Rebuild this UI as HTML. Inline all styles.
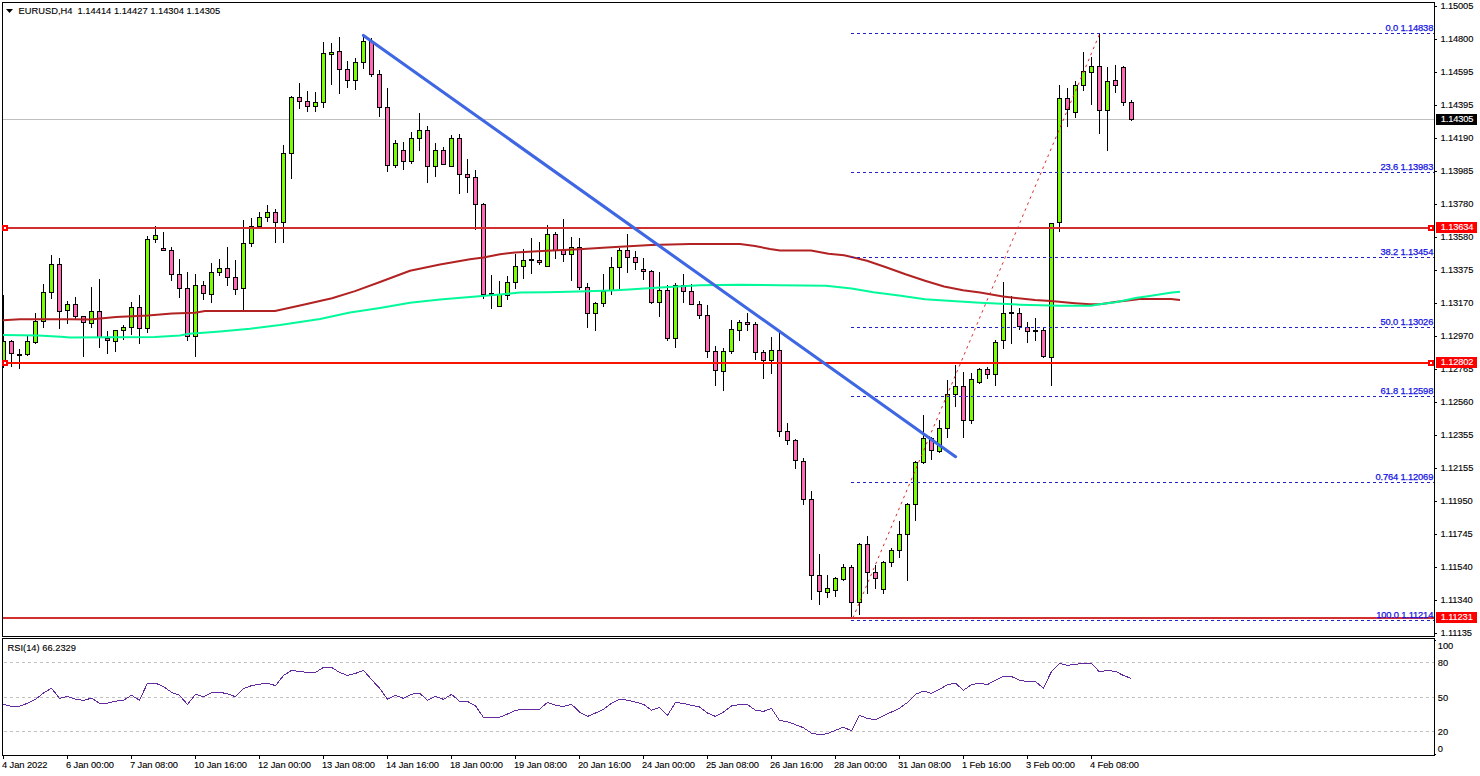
<!DOCTYPE html>
<html><head><meta charset="utf-8"><title>EURUSD,H4</title>
<style>html,body{margin:0;padding:0;background:#fff;}body{width:1480px;height:776px;overflow:hidden;position:relative;}svg{position:absolute;left:0;top:0;display:block;}text{font-family:"Liberation Sans",sans-serif;font-size:9.33px;fill:#000;stroke:#000;stroke-width:0.12px;}.fib{fill:#1414e6;stroke:#1414e6;stroke-width:0.25px;}.w{fill:#fff;stroke:#fff;}.d{letter-spacing:-0.08px;}.n{letter-spacing:-0.15px;}</style>
</head><body>
<svg width="1480" height="776" viewBox="0 0 1480 776">
<rect x="0" y="0" width="1480" height="776" fill="#fff"/>
<defs><clipPath id="cm"><rect x="3" y="3" width="1431" height="633"/></clipPath><clipPath id="cr"><rect x="3" y="639" width="1431" height="116"/></clipPath></defs>
<g clip-path="url(#cm)" shape-rendering="crispEdges">
<rect x="3" y="119" width="1431" height="1" fill="#c0c0c0"/>
<rect x="3" y="295" width="1" height="73" fill="#000"/>
<rect x="1" y="341" width="5" height="20" fill="#000"/>
<rect x="2" y="342" width="3" height="18" fill="#7cfc00"/>
<rect x="11" y="340" width="1" height="27" fill="#000"/>
<rect x="9" y="341" width="5" height="13" fill="#000"/>
<rect x="10" y="342" width="3" height="11" fill="#ff69b4"/>
<rect x="19" y="349" width="1" height="20" fill="#000"/>
<rect x="17" y="354" width="5" height="2" fill="#000"/>
<rect x="27" y="336" width="1" height="20" fill="#000"/>
<rect x="25" y="341" width="5" height="14" fill="#000"/>
<rect x="26" y="342" width="3" height="12" fill="#7cfc00"/>
<rect x="35" y="313" width="1" height="31" fill="#000"/>
<rect x="33" y="321" width="5" height="22" fill="#000"/>
<rect x="34" y="322" width="3" height="20" fill="#7cfc00"/>
<rect x="43" y="284" width="1" height="44" fill="#000"/>
<rect x="41" y="292" width="5" height="30" fill="#000"/>
<rect x="42" y="293" width="3" height="28" fill="#7cfc00"/>
<rect x="51" y="255" width="1" height="44" fill="#000"/>
<rect x="49" y="264" width="5" height="29" fill="#000"/>
<rect x="50" y="265" width="3" height="27" fill="#7cfc00"/>
<rect x="59" y="258" width="1" height="71" fill="#000"/>
<rect x="57" y="264" width="5" height="48" fill="#000"/>
<rect x="58" y="265" width="3" height="46" fill="#ff69b4"/>
<rect x="67" y="301" width="1" height="23" fill="#000"/>
<rect x="65" y="304" width="5" height="7" fill="#000"/>
<rect x="66" y="305" width="3" height="5" fill="#7cfc00"/>
<rect x="75" y="297" width="1" height="22" fill="#000"/>
<rect x="73" y="304" width="5" height="13" fill="#000"/>
<rect x="74" y="305" width="3" height="11" fill="#ff69b4"/>
<rect x="83" y="316" width="1" height="41" fill="#000"/>
<rect x="81" y="316" width="5" height="7" fill="#000"/>
<rect x="82" y="317" width="3" height="5" fill="#ff69b4"/>
<rect x="91" y="287" width="1" height="41" fill="#000"/>
<rect x="89" y="311" width="5" height="13" fill="#000"/>
<rect x="90" y="312" width="3" height="11" fill="#7cfc00"/>
<rect x="99" y="279" width="1" height="69" fill="#000"/>
<rect x="97" y="311" width="5" height="27" fill="#000"/>
<rect x="98" y="312" width="3" height="25" fill="#ff69b4"/>
<rect x="107" y="331" width="1" height="23" fill="#000"/>
<rect x="105" y="338" width="5" height="3" fill="#000"/>
<rect x="106" y="339" width="3" height="1" fill="#ff69b4"/>
<rect x="115" y="330" width="1" height="22" fill="#000"/>
<rect x="113" y="330" width="5" height="12" fill="#000"/>
<rect x="114" y="331" width="3" height="10" fill="#7cfc00"/>
<rect x="123" y="325" width="1" height="15" fill="#000"/>
<rect x="121" y="327" width="5" height="4" fill="#000"/>
<rect x="122" y="328" width="3" height="2" fill="#7cfc00"/>
<rect x="131" y="302" width="1" height="33" fill="#000"/>
<rect x="129" y="307" width="5" height="21" fill="#000"/>
<rect x="130" y="308" width="3" height="19" fill="#7cfc00"/>
<rect x="139" y="295" width="1" height="49" fill="#000"/>
<rect x="137" y="307" width="5" height="22" fill="#000"/>
<rect x="138" y="308" width="3" height="20" fill="#ff69b4"/>
<rect x="147" y="236" width="1" height="97" fill="#000"/>
<rect x="145" y="239" width="5" height="90" fill="#000"/>
<rect x="146" y="240" width="3" height="88" fill="#7cfc00"/>
<rect x="155" y="226" width="1" height="17" fill="#000"/>
<rect x="153" y="235" width="5" height="5" fill="#000"/>
<rect x="154" y="236" width="3" height="3" fill="#7cfc00"/>
<rect x="163" y="232" width="1" height="19" fill="#000"/>
<rect x="161" y="248" width="5" height="3" fill="#000"/>
<rect x="162" y="249" width="3" height="1" fill="#ff69b4"/>
<rect x="171" y="247" width="1" height="34" fill="#000"/>
<rect x="169" y="250" width="5" height="25" fill="#000"/>
<rect x="170" y="251" width="3" height="23" fill="#ff69b4"/>
<rect x="179" y="259" width="1" height="39" fill="#000"/>
<rect x="177" y="274" width="5" height="15" fill="#000"/>
<rect x="178" y="275" width="3" height="13" fill="#ff69b4"/>
<rect x="187" y="272" width="1" height="69" fill="#000"/>
<rect x="185" y="288" width="5" height="49" fill="#000"/>
<rect x="186" y="289" width="3" height="47" fill="#ff69b4"/>
<rect x="195" y="274" width="1" height="83" fill="#000"/>
<rect x="193" y="285" width="5" height="52" fill="#000"/>
<rect x="194" y="286" width="3" height="50" fill="#7cfc00"/>
<rect x="203" y="281" width="1" height="19" fill="#000"/>
<rect x="201" y="285" width="5" height="9" fill="#000"/>
<rect x="202" y="286" width="3" height="7" fill="#ff69b4"/>
<rect x="211" y="263" width="1" height="40" fill="#000"/>
<rect x="209" y="272" width="5" height="23" fill="#000"/>
<rect x="210" y="273" width="3" height="21" fill="#7cfc00"/>
<rect x="219" y="259" width="1" height="17" fill="#000"/>
<rect x="217" y="268" width="5" height="5" fill="#000"/>
<rect x="218" y="269" width="3" height="3" fill="#7cfc00"/>
<rect x="227" y="247" width="1" height="39" fill="#000"/>
<rect x="225" y="268" width="5" height="10" fill="#000"/>
<rect x="226" y="269" width="3" height="8" fill="#ff69b4"/>
<rect x="235" y="260" width="1" height="35" fill="#000"/>
<rect x="233" y="277" width="5" height="13" fill="#000"/>
<rect x="234" y="278" width="3" height="11" fill="#ff69b4"/>
<rect x="243" y="220" width="1" height="91" fill="#000"/>
<rect x="241" y="243" width="5" height="46" fill="#000"/>
<rect x="242" y="244" width="3" height="44" fill="#7cfc00"/>
<rect x="251" y="218" width="1" height="29" fill="#000"/>
<rect x="249" y="226" width="5" height="18" fill="#000"/>
<rect x="250" y="227" width="3" height="16" fill="#7cfc00"/>
<rect x="259" y="212" width="1" height="15" fill="#000"/>
<rect x="257" y="217" width="5" height="10" fill="#000"/>
<rect x="258" y="218" width="3" height="8" fill="#7cfc00"/>
<rect x="267" y="205" width="1" height="17" fill="#000"/>
<rect x="265" y="212" width="5" height="6" fill="#000"/>
<rect x="266" y="213" width="3" height="4" fill="#7cfc00"/>
<rect x="275" y="209" width="1" height="34" fill="#000"/>
<rect x="273" y="212" width="5" height="11" fill="#000"/>
<rect x="274" y="213" width="3" height="9" fill="#ff69b4"/>
<rect x="283" y="145" width="1" height="98" fill="#000"/>
<rect x="281" y="153" width="5" height="70" fill="#000"/>
<rect x="282" y="154" width="3" height="68" fill="#7cfc00"/>
<rect x="291" y="96" width="1" height="83" fill="#000"/>
<rect x="289" y="97" width="5" height="57" fill="#000"/>
<rect x="290" y="98" width="3" height="55" fill="#7cfc00"/>
<rect x="299" y="83" width="1" height="26" fill="#000"/>
<rect x="297" y="97" width="5" height="5" fill="#000"/>
<rect x="298" y="98" width="3" height="3" fill="#ff69b4"/>
<rect x="307" y="91" width="1" height="21" fill="#000"/>
<rect x="305" y="101" width="5" height="6" fill="#000"/>
<rect x="306" y="102" width="3" height="4" fill="#ff69b4"/>
<rect x="315" y="92" width="1" height="20" fill="#000"/>
<rect x="313" y="102" width="5" height="5" fill="#000"/>
<rect x="314" y="103" width="3" height="3" fill="#7cfc00"/>
<rect x="323" y="42" width="1" height="66" fill="#000"/>
<rect x="321" y="53" width="5" height="50" fill="#000"/>
<rect x="322" y="54" width="3" height="48" fill="#7cfc00"/>
<rect x="331" y="43" width="1" height="42" fill="#000"/>
<rect x="329" y="52" width="5" height="3" fill="#000"/>
<rect x="330" y="53" width="3" height="1" fill="#7cfc00"/>
<rect x="339" y="37" width="1" height="57" fill="#000"/>
<rect x="337" y="51" width="5" height="19" fill="#000"/>
<rect x="338" y="52" width="3" height="17" fill="#ff69b4"/>
<rect x="347" y="61" width="1" height="27" fill="#000"/>
<rect x="345" y="69" width="5" height="12" fill="#000"/>
<rect x="346" y="70" width="3" height="10" fill="#ff69b4"/>
<rect x="355" y="58" width="1" height="32" fill="#000"/>
<rect x="353" y="62" width="5" height="19" fill="#000"/>
<rect x="354" y="63" width="3" height="17" fill="#7cfc00"/>
<rect x="363" y="36" width="1" height="33" fill="#000"/>
<rect x="361" y="41" width="5" height="22" fill="#000"/>
<rect x="362" y="42" width="3" height="20" fill="#7cfc00"/>
<rect x="371" y="38" width="1" height="39" fill="#000"/>
<rect x="369" y="41" width="5" height="34" fill="#000"/>
<rect x="370" y="42" width="3" height="32" fill="#ff69b4"/>
<rect x="379" y="70" width="1" height="47" fill="#000"/>
<rect x="377" y="74" width="5" height="34" fill="#000"/>
<rect x="378" y="75" width="3" height="32" fill="#ff69b4"/>
<rect x="387" y="88" width="1" height="84" fill="#000"/>
<rect x="385" y="107" width="5" height="59" fill="#000"/>
<rect x="386" y="108" width="3" height="57" fill="#ff69b4"/>
<rect x="395" y="140" width="1" height="28" fill="#000"/>
<rect x="393" y="143" width="5" height="23" fill="#000"/>
<rect x="394" y="144" width="3" height="21" fill="#7cfc00"/>
<rect x="403" y="142" width="1" height="28" fill="#000"/>
<rect x="401" y="150" width="5" height="12" fill="#000"/>
<rect x="402" y="151" width="3" height="10" fill="#ff69b4"/>
<rect x="411" y="132" width="1" height="32" fill="#000"/>
<rect x="409" y="138" width="5" height="24" fill="#000"/>
<rect x="410" y="139" width="3" height="22" fill="#7cfc00"/>
<rect x="419" y="113" width="1" height="38" fill="#000"/>
<rect x="417" y="130" width="5" height="9" fill="#000"/>
<rect x="418" y="131" width="3" height="7" fill="#7cfc00"/>
<rect x="427" y="126" width="1" height="57" fill="#000"/>
<rect x="425" y="130" width="5" height="37" fill="#000"/>
<rect x="426" y="131" width="3" height="35" fill="#ff69b4"/>
<rect x="435" y="143" width="1" height="34" fill="#000"/>
<rect x="433" y="150" width="5" height="17" fill="#000"/>
<rect x="434" y="151" width="3" height="15" fill="#7cfc00"/>
<rect x="443" y="147" width="1" height="18" fill="#000"/>
<rect x="441" y="150" width="5" height="15" fill="#000"/>
<rect x="442" y="151" width="3" height="13" fill="#ff69b4"/>
<rect x="451" y="135" width="1" height="32" fill="#000"/>
<rect x="449" y="138" width="5" height="29" fill="#000"/>
<rect x="450" y="139" width="3" height="27" fill="#7cfc00"/>
<rect x="459" y="134" width="1" height="60" fill="#000"/>
<rect x="457" y="138" width="5" height="37" fill="#000"/>
<rect x="458" y="139" width="3" height="35" fill="#ff69b4"/>
<rect x="467" y="159" width="1" height="34" fill="#000"/>
<rect x="465" y="174" width="5" height="4" fill="#000"/>
<rect x="466" y="175" width="3" height="2" fill="#ff69b4"/>
<rect x="475" y="170" width="1" height="60" fill="#000"/>
<rect x="473" y="177" width="5" height="28" fill="#000"/>
<rect x="474" y="178" width="3" height="26" fill="#ff69b4"/>
<rect x="483" y="203" width="1" height="96" fill="#000"/>
<rect x="481" y="204" width="5" height="91" fill="#000"/>
<rect x="482" y="205" width="3" height="89" fill="#ff69b4"/>
<rect x="491" y="275" width="1" height="34" fill="#000"/>
<rect x="489" y="293" width="5" height="2" fill="#000"/>
<rect x="499" y="281" width="1" height="26" fill="#000"/>
<rect x="497" y="294" width="5" height="13" fill="#000"/>
<rect x="498" y="295" width="3" height="11" fill="#7cfc00"/>
<rect x="507" y="276" width="1" height="24" fill="#000"/>
<rect x="505" y="282" width="5" height="14" fill="#000"/>
<rect x="506" y="283" width="3" height="12" fill="#7cfc00"/>
<rect x="515" y="254" width="1" height="35" fill="#000"/>
<rect x="513" y="266" width="5" height="17" fill="#000"/>
<rect x="514" y="267" width="3" height="15" fill="#7cfc00"/>
<rect x="523" y="249" width="1" height="30" fill="#000"/>
<rect x="521" y="260" width="5" height="7" fill="#000"/>
<rect x="522" y="261" width="3" height="5" fill="#7cfc00"/>
<rect x="531" y="238" width="1" height="36" fill="#000"/>
<rect x="529" y="259" width="5" height="2" fill="#000"/>
<rect x="539" y="242" width="1" height="23" fill="#000"/>
<rect x="537" y="260" width="5" height="3" fill="#000"/>
<rect x="538" y="261" width="3" height="1" fill="#ff69b4"/>
<rect x="547" y="225" width="1" height="42" fill="#000"/>
<rect x="545" y="234" width="5" height="33" fill="#000"/>
<rect x="546" y="235" width="3" height="31" fill="#7cfc00"/>
<rect x="555" y="232" width="1" height="27" fill="#000"/>
<rect x="553" y="234" width="5" height="17" fill="#000"/>
<rect x="554" y="235" width="3" height="15" fill="#ff69b4"/>
<rect x="563" y="219" width="1" height="43" fill="#000"/>
<rect x="561" y="250" width="5" height="5" fill="#000"/>
<rect x="562" y="251" width="3" height="3" fill="#ff69b4"/>
<rect x="571" y="237" width="1" height="44" fill="#000"/>
<rect x="569" y="247" width="5" height="8" fill="#000"/>
<rect x="570" y="248" width="3" height="6" fill="#7cfc00"/>
<rect x="579" y="238" width="1" height="52" fill="#000"/>
<rect x="577" y="247" width="5" height="41" fill="#000"/>
<rect x="578" y="248" width="3" height="39" fill="#ff69b4"/>
<rect x="587" y="283" width="1" height="45" fill="#000"/>
<rect x="585" y="287" width="5" height="27" fill="#000"/>
<rect x="586" y="288" width="3" height="25" fill="#ff69b4"/>
<rect x="595" y="302" width="1" height="29" fill="#000"/>
<rect x="593" y="303" width="5" height="11" fill="#000"/>
<rect x="594" y="304" width="3" height="9" fill="#7cfc00"/>
<rect x="603" y="274" width="1" height="33" fill="#000"/>
<rect x="601" y="291" width="5" height="13" fill="#000"/>
<rect x="602" y="292" width="3" height="11" fill="#7cfc00"/>
<rect x="611" y="257" width="1" height="38" fill="#000"/>
<rect x="609" y="267" width="5" height="24" fill="#000"/>
<rect x="610" y="268" width="3" height="22" fill="#7cfc00"/>
<rect x="619" y="248" width="1" height="42" fill="#000"/>
<rect x="617" y="250" width="5" height="18" fill="#000"/>
<rect x="618" y="251" width="3" height="16" fill="#7cfc00"/>
<rect x="627" y="234" width="1" height="39" fill="#000"/>
<rect x="625" y="250" width="5" height="8" fill="#000"/>
<rect x="626" y="251" width="3" height="6" fill="#ff69b4"/>
<rect x="635" y="251" width="1" height="19" fill="#000"/>
<rect x="633" y="257" width="5" height="6" fill="#000"/>
<rect x="634" y="258" width="3" height="4" fill="#ff69b4"/>
<rect x="643" y="258" width="1" height="22" fill="#000"/>
<rect x="641" y="269" width="5" height="3" fill="#000"/>
<rect x="642" y="270" width="3" height="1" fill="#ff69b4"/>
<rect x="651" y="270" width="1" height="34" fill="#000"/>
<rect x="649" y="271" width="5" height="32" fill="#000"/>
<rect x="650" y="272" width="3" height="30" fill="#ff69b4"/>
<rect x="659" y="272" width="1" height="45" fill="#000"/>
<rect x="657" y="290" width="5" height="13" fill="#000"/>
<rect x="658" y="291" width="3" height="11" fill="#7cfc00"/>
<rect x="667" y="285" width="1" height="56" fill="#000"/>
<rect x="665" y="290" width="5" height="49" fill="#000"/>
<rect x="666" y="291" width="3" height="47" fill="#ff69b4"/>
<rect x="675" y="283" width="1" height="65" fill="#000"/>
<rect x="673" y="285" width="5" height="54" fill="#000"/>
<rect x="674" y="286" width="3" height="52" fill="#7cfc00"/>
<rect x="683" y="274" width="1" height="29" fill="#000"/>
<rect x="681" y="285" width="5" height="7" fill="#000"/>
<rect x="682" y="286" width="3" height="5" fill="#ff69b4"/>
<rect x="691" y="284" width="1" height="21" fill="#000"/>
<rect x="689" y="291" width="5" height="14" fill="#000"/>
<rect x="690" y="292" width="3" height="12" fill="#ff69b4"/>
<rect x="699" y="301" width="1" height="18" fill="#000"/>
<rect x="697" y="304" width="5" height="12" fill="#000"/>
<rect x="698" y="305" width="3" height="10" fill="#ff69b4"/>
<rect x="707" y="305" width="1" height="53" fill="#000"/>
<rect x="705" y="315" width="5" height="37" fill="#000"/>
<rect x="706" y="316" width="3" height="35" fill="#ff69b4"/>
<rect x="715" y="346" width="1" height="40" fill="#000"/>
<rect x="713" y="351" width="5" height="20" fill="#000"/>
<rect x="714" y="352" width="3" height="18" fill="#ff69b4"/>
<rect x="723" y="348" width="1" height="43" fill="#000"/>
<rect x="721" y="351" width="5" height="21" fill="#000"/>
<rect x="722" y="352" width="3" height="19" fill="#7cfc00"/>
<rect x="731" y="320" width="1" height="34" fill="#000"/>
<rect x="729" y="329" width="5" height="23" fill="#000"/>
<rect x="730" y="330" width="3" height="21" fill="#7cfc00"/>
<rect x="739" y="320" width="1" height="21" fill="#000"/>
<rect x="737" y="322" width="5" height="9" fill="#000"/>
<rect x="738" y="323" width="3" height="7" fill="#7cfc00"/>
<rect x="747" y="313" width="1" height="18" fill="#000"/>
<rect x="745" y="322" width="5" height="3" fill="#000"/>
<rect x="746" y="323" width="3" height="1" fill="#ff69b4"/>
<rect x="755" y="322" width="1" height="38" fill="#000"/>
<rect x="753" y="324" width="5" height="29" fill="#000"/>
<rect x="754" y="325" width="3" height="27" fill="#ff69b4"/>
<rect x="763" y="350" width="1" height="29" fill="#000"/>
<rect x="761" y="352" width="5" height="9" fill="#000"/>
<rect x="762" y="353" width="3" height="7" fill="#ff69b4"/>
<rect x="771" y="337" width="1" height="37" fill="#000"/>
<rect x="769" y="350" width="5" height="11" fill="#000"/>
<rect x="770" y="351" width="3" height="9" fill="#7cfc00"/>
<rect x="779" y="333" width="1" height="104" fill="#000"/>
<rect x="777" y="350" width="5" height="82" fill="#000"/>
<rect x="778" y="351" width="3" height="80" fill="#ff69b4"/>
<rect x="787" y="423" width="1" height="22" fill="#000"/>
<rect x="785" y="431" width="5" height="10" fill="#000"/>
<rect x="786" y="432" width="3" height="8" fill="#ff69b4"/>
<rect x="795" y="439" width="1" height="30" fill="#000"/>
<rect x="793" y="440" width="5" height="21" fill="#000"/>
<rect x="794" y="441" width="3" height="19" fill="#ff69b4"/>
<rect x="803" y="458" width="1" height="47" fill="#000"/>
<rect x="801" y="461" width="5" height="39" fill="#000"/>
<rect x="802" y="462" width="3" height="37" fill="#ff69b4"/>
<rect x="811" y="491" width="1" height="109" fill="#000"/>
<rect x="809" y="499" width="5" height="77" fill="#000"/>
<rect x="810" y="500" width="3" height="75" fill="#ff69b4"/>
<rect x="819" y="554" width="1" height="51" fill="#000"/>
<rect x="817" y="575" width="5" height="17" fill="#000"/>
<rect x="818" y="576" width="3" height="15" fill="#ff69b4"/>
<rect x="827" y="575" width="1" height="23" fill="#000"/>
<rect x="825" y="588" width="5" height="5" fill="#000"/>
<rect x="826" y="589" width="3" height="3" fill="#7cfc00"/>
<rect x="835" y="577" width="1" height="20" fill="#000"/>
<rect x="833" y="578" width="5" height="13" fill="#000"/>
<rect x="834" y="579" width="3" height="11" fill="#7cfc00"/>
<rect x="843" y="564" width="1" height="17" fill="#000"/>
<rect x="841" y="567" width="5" height="13" fill="#000"/>
<rect x="842" y="568" width="3" height="11" fill="#7cfc00"/>
<rect x="851" y="565" width="1" height="53" fill="#000"/>
<rect x="849" y="567" width="5" height="36" fill="#000"/>
<rect x="850" y="568" width="3" height="34" fill="#ff69b4"/>
<rect x="859" y="543" width="1" height="72" fill="#000"/>
<rect x="857" y="544" width="5" height="59" fill="#000"/>
<rect x="858" y="545" width="3" height="57" fill="#7cfc00"/>
<rect x="867" y="536" width="1" height="58" fill="#000"/>
<rect x="865" y="544" width="5" height="29" fill="#000"/>
<rect x="866" y="545" width="3" height="27" fill="#ff69b4"/>
<rect x="875" y="565" width="1" height="24" fill="#000"/>
<rect x="873" y="572" width="5" height="7" fill="#000"/>
<rect x="874" y="573" width="3" height="5" fill="#ff69b4"/>
<rect x="883" y="561" width="1" height="33" fill="#000"/>
<rect x="881" y="562" width="5" height="28" fill="#000"/>
<rect x="882" y="563" width="3" height="26" fill="#7cfc00"/>
<rect x="891" y="548" width="1" height="19" fill="#000"/>
<rect x="889" y="550" width="5" height="13" fill="#000"/>
<rect x="890" y="551" width="3" height="11" fill="#7cfc00"/>
<rect x="899" y="521" width="1" height="37" fill="#000"/>
<rect x="897" y="534" width="5" height="17" fill="#000"/>
<rect x="898" y="535" width="3" height="15" fill="#7cfc00"/>
<rect x="907" y="503" width="1" height="78" fill="#000"/>
<rect x="905" y="504" width="5" height="31" fill="#000"/>
<rect x="906" y="505" width="3" height="29" fill="#7cfc00"/>
<rect x="915" y="461" width="1" height="60" fill="#000"/>
<rect x="913" y="462" width="5" height="43" fill="#000"/>
<rect x="914" y="463" width="3" height="41" fill="#7cfc00"/>
<rect x="923" y="415" width="1" height="49" fill="#000"/>
<rect x="921" y="438" width="5" height="25" fill="#000"/>
<rect x="922" y="439" width="3" height="23" fill="#7cfc00"/>
<rect x="931" y="437" width="1" height="23" fill="#000"/>
<rect x="929" y="438" width="5" height="13" fill="#000"/>
<rect x="930" y="439" width="3" height="11" fill="#ff69b4"/>
<rect x="939" y="420" width="1" height="33" fill="#000"/>
<rect x="937" y="428" width="5" height="24" fill="#000"/>
<rect x="938" y="429" width="3" height="22" fill="#7cfc00"/>
<rect x="947" y="380" width="1" height="58" fill="#000"/>
<rect x="945" y="394" width="5" height="35" fill="#000"/>
<rect x="946" y="395" width="3" height="33" fill="#7cfc00"/>
<rect x="955" y="365" width="1" height="42" fill="#000"/>
<rect x="953" y="386" width="5" height="9" fill="#000"/>
<rect x="954" y="387" width="3" height="7" fill="#7cfc00"/>
<rect x="963" y="372" width="1" height="66" fill="#000"/>
<rect x="961" y="386" width="5" height="35" fill="#000"/>
<rect x="962" y="387" width="3" height="33" fill="#ff69b4"/>
<rect x="971" y="373" width="1" height="51" fill="#000"/>
<rect x="969" y="379" width="5" height="42" fill="#000"/>
<rect x="970" y="380" width="3" height="40" fill="#7cfc00"/>
<rect x="979" y="368" width="1" height="16" fill="#000"/>
<rect x="977" y="369" width="5" height="14" fill="#000"/>
<rect x="978" y="370" width="3" height="12" fill="#7cfc00"/>
<rect x="987" y="367" width="1" height="12" fill="#000"/>
<rect x="985" y="369" width="5" height="6" fill="#000"/>
<rect x="986" y="370" width="3" height="4" fill="#ff69b4"/>
<rect x="995" y="340" width="1" height="46" fill="#000"/>
<rect x="993" y="342" width="5" height="33" fill="#000"/>
<rect x="994" y="343" width="3" height="31" fill="#7cfc00"/>
<rect x="1003" y="282" width="1" height="67" fill="#000"/>
<rect x="1001" y="313" width="5" height="28" fill="#000"/>
<rect x="1002" y="314" width="3" height="26" fill="#7cfc00"/>
<rect x="1011" y="296" width="1" height="48" fill="#000"/>
<rect x="1009" y="312" width="5" height="2" fill="#000"/>
<rect x="1019" y="308" width="1" height="22" fill="#000"/>
<rect x="1017" y="313" width="5" height="14" fill="#000"/>
<rect x="1018" y="314" width="3" height="12" fill="#ff69b4"/>
<rect x="1027" y="322" width="1" height="21" fill="#000"/>
<rect x="1025" y="327" width="5" height="5" fill="#000"/>
<rect x="1026" y="328" width="3" height="3" fill="#ff69b4"/>
<rect x="1035" y="318" width="1" height="23" fill="#000"/>
<rect x="1033" y="330" width="5" height="2" fill="#000"/>
<rect x="1043" y="328" width="1" height="30" fill="#000"/>
<rect x="1041" y="330" width="5" height="27" fill="#000"/>
<rect x="1042" y="331" width="3" height="25" fill="#ff69b4"/>
<rect x="1051" y="223" width="1" height="163" fill="#000"/>
<rect x="1049" y="223" width="5" height="135" fill="#000"/>
<rect x="1050" y="224" width="3" height="133" fill="#7cfc00"/>
<rect x="1059" y="85" width="1" height="147" fill="#000"/>
<rect x="1057" y="98" width="5" height="125" fill="#000"/>
<rect x="1058" y="99" width="3" height="123" fill="#7cfc00"/>
<rect x="1067" y="88" width="1" height="39" fill="#000"/>
<rect x="1065" y="98" width="5" height="12" fill="#000"/>
<rect x="1066" y="99" width="3" height="10" fill="#ff69b4"/>
<rect x="1075" y="81" width="1" height="37" fill="#000"/>
<rect x="1073" y="85" width="5" height="28" fill="#000"/>
<rect x="1074" y="86" width="3" height="26" fill="#7cfc00"/>
<rect x="1083" y="52" width="1" height="39" fill="#000"/>
<rect x="1081" y="71" width="5" height="15" fill="#000"/>
<rect x="1082" y="72" width="3" height="13" fill="#7cfc00"/>
<rect x="1091" y="57" width="1" height="48" fill="#000"/>
<rect x="1089" y="66" width="5" height="7" fill="#000"/>
<rect x="1090" y="67" width="3" height="5" fill="#7cfc00"/>
<rect x="1099" y="33" width="1" height="101" fill="#000"/>
<rect x="1097" y="66" width="5" height="45" fill="#000"/>
<rect x="1098" y="67" width="3" height="43" fill="#ff69b4"/>
<rect x="1107" y="67" width="1" height="84" fill="#000"/>
<rect x="1105" y="81" width="5" height="30" fill="#000"/>
<rect x="1106" y="82" width="3" height="28" fill="#7cfc00"/>
<rect x="1115" y="65" width="1" height="28" fill="#000"/>
<rect x="1113" y="80" width="5" height="6" fill="#000"/>
<rect x="1114" y="81" width="3" height="4" fill="#ff69b4"/>
<rect x="1123" y="66" width="1" height="40" fill="#000"/>
<rect x="1121" y="67" width="5" height="36" fill="#000"/>
<rect x="1122" y="68" width="3" height="34" fill="#ff69b4"/>
<rect x="1131" y="100" width="1" height="21" fill="#000"/>
<rect x="1129" y="102" width="5" height="18" fill="#000"/>
<rect x="1130" y="103" width="3" height="16" fill="#ff69b4"/>
</g>
<g clip-path="url(#cm)" fill="none" stroke-linejoin="round">
<polyline points="2,320.3 20,319.3 70,319.3 90,319.6 116,317 148,315.5 172,313.5 195,312.8 205,311 243,311 275,311 300,305.5 332,298.3 355,291.1 380,282 410,270.7 440,264.6 470,259.3 483.5,257.5 500,254.2 515,252.4 547,250.7 579,249.3 611,247.2 629,246.2 651,244.9 690,244 740,244 755,246.1 770,249 780,250.6 811,250.5 828.5,253.8 844,255.2 851.6,257 867,260.8 886,267.2 905.5,274.3 925,280.7 944,286.5 963,290.3 980,292.5 1003,296.4 1035,300.1 1051,301 1075,303.2 1090,304.3 1100,304.3 1115,302 1132,300 1139.5,298.9 1171,298.9 1180,300" stroke="#b22222" stroke-width="2"/>
<polyline points="2,335 38,335.4 61,336.8 70,337.6 155,337 180,335.4 189,333.8 200,333.1 220,331.6 250,328.7 280,325.1 320,318.9 350,312.5 380,307.9 410,302.7 440,299.6 470,296.9 500,294.4 520,292.6 547,292.3 579,291.5 611,290.4 629,289.4 660,287.4 700,285.3 740,284.7 780,285.3 826,285.8 851.6,288.4 873.5,292.3 899,295.5 925,299.3 944,300.6 980,302.8 1020,304.7 1060,305.8 1091,305.8 1099.5,304.3 1115.7,302.2 1124,300.5 1137,297.8 1148,296.2 1159,294.6 1172,292.4 1180,291.7" stroke="#00fa9a" stroke-width="2"/>
</g>
<g shape-rendering="crispEdges" stroke="#2222c4" stroke-width="1" stroke-dasharray="3 3" fill="none">
<line x1="851" y1="33.5" x2="1434" y2="33.5"/>
<line x1="851" y1="172.5" x2="1434" y2="172.5"/>
<line x1="851" y1="257.5" x2="1434" y2="257.5"/>
<line x1="851" y1="327.5" x2="1434" y2="327.5"/>
<line x1="851" y1="396.5" x2="1434" y2="396.5"/>
<line x1="851" y1="482.5" x2="1434" y2="482.5"/>
<line x1="851" y1="620.5" x2="1434" y2="620.5"/>
</g>
<line x1="852.9" y1="618" x2="1099.6" y2="34" stroke="#d82020" stroke-width="0.95" stroke-dasharray="2.6 3.9" fill="none"/>
<g shape-rendering="crispEdges">
<rect x="3" y="227" width="1431" height="2" fill="#d23030"/>
<rect x="3" y="362" width="1431" height="2" fill="#f81400"/>
<rect x="3" y="617" width="1431" height="2" fill="#d23030"/>
</g>
<line x1="363.4" y1="35.4" x2="955.6" y2="456.7" stroke="#3f67e3" stroke-width="3.1" stroke-linecap="round"/>
<g shape-rendering="crispEdges" fill="#000">
<rect x="2" y="2" width="1433" height="1"/>
<rect x="2" y="2" width="1" height="635"/>
<rect x="2" y="636" width="1433" height="1"/>
<rect x="2" y="638" width="1433" height="1"/>
<rect x="2" y="638" width="1" height="118"/>
<rect x="2" y="755" width="1433" height="1"/>
<rect x="1434" y="2" width="1" height="635"/><rect x="1434" y="638" width="1" height="118"/>
<rect x="1435" y="6" width="2" height="1"/>
<rect x="1435" y="39" width="2" height="1"/>
<rect x="1435" y="72" width="2" height="1"/>
<rect x="1435" y="105" width="2" height="1"/>
<rect x="1435" y="138" width="2" height="1"/>
<rect x="1435" y="171" width="2" height="1"/>
<rect x="1435" y="204" width="2" height="1"/>
<rect x="1435" y="237" width="2" height="1"/>
<rect x="1435" y="270" width="2" height="1"/>
<rect x="1435" y="303" width="2" height="1"/>
<rect x="1435" y="336" width="2" height="1"/>
<rect x="1435" y="369" width="2" height="1"/>
<rect x="1435" y="402" width="2" height="1"/>
<rect x="1435" y="435" width="2" height="1"/>
<rect x="1435" y="468" width="2" height="1"/>
<rect x="1435" y="501" width="2" height="1"/>
<rect x="1435" y="534" width="2" height="1"/>
<rect x="1435" y="567" width="2" height="1"/>
<rect x="1435" y="600" width="2" height="1"/>
<rect x="1435" y="633" width="2" height="1"/>
<rect x="1435" y="640" width="1" height="1"/><rect x="1435" y="754" width="1" height="1"/>
<rect x="3" y="756" width="1" height="3"/>
<rect x="67" y="756" width="1" height="3"/>
<rect x="131" y="756" width="1" height="3"/>
<rect x="195" y="756" width="1" height="3"/>
<rect x="259" y="756" width="1" height="3"/>
<rect x="323" y="756" width="1" height="3"/>
<rect x="387" y="756" width="1" height="3"/>
<rect x="451" y="756" width="1" height="3"/>
<rect x="515" y="756" width="1" height="3"/>
<rect x="579" y="756" width="1" height="3"/>
<rect x="643" y="756" width="1" height="3"/>
<rect x="707" y="756" width="1" height="3"/>
<rect x="771" y="756" width="1" height="3"/>
<rect x="835" y="756" width="1" height="3"/>
<rect x="899" y="756" width="1" height="3"/>
<rect x="963" y="756" width="1" height="3"/>
<rect x="1027" y="756" width="1" height="3"/>
<rect x="1091" y="756" width="1" height="3"/>
</g>
<g shape-rendering="crispEdges">
<rect x="2" y="225" width="6" height="6" fill="#ff0000"/><rect x="4" y="227" width="2" height="2" fill="#fff"/>
<rect x="1428" y="225" width="6" height="6" fill="#ff0000"/><rect x="1430" y="227" width="2" height="2" fill="#fff"/>
<rect x="2" y="360" width="6" height="6" fill="#ff0000"/><rect x="4" y="362" width="2" height="2" fill="#fff"/>
<rect x="1428" y="360" width="6" height="6" fill="#ff0000"/><rect x="1430" y="362" width="2" height="2" fill="#fff"/>
</g>
<g shape-rendering="crispEdges" stroke="#c0c0c0" stroke-width="1" stroke-dasharray="3 3" fill="none">
<line x1="4" y1="662.5" x2="1434" y2="662.5"/>
<line x1="4" y1="697.5" x2="1434" y2="697.5"/>
<line x1="4" y1="731.5" x2="1434" y2="731.5"/>
</g>
<polyline clip-path="url(#cr)" points="3.5,704.5 11.5,706.3 19.5,706.3 27.5,703.2 35.5,699.4 43.5,693.1 51.5,688.2 59.5,698.4 67.5,696.4 75.5,699.2 83.5,700.4 91.5,698.2 99.5,703.2 107.5,703.2 115.5,701.2 123.5,700.2 131.5,695.3 139.5,700.2 147.5,683.2 155.5,683.2 163.5,686.6 171.5,692.3 179.5,695.3 187.5,704.5 195.5,694.3 203.5,696.8 211.5,692.7 219.5,692.3 227.5,693.7 235.5,696.8 243.5,688.7 251.5,685.6 259.5,684.2 267.5,683.2 275.5,685.6 283.5,675.5 291.5,670.4 299.5,671.4 307.5,672.4 315.5,672.4 323.5,667.4 331.5,667.4 339.5,672.4 347.5,675.5 355.5,673.4 363.5,670.4 371.5,679.5 379.5,688.2 387.5,699.2 395.5,695.3 403.5,698.4 411.5,694.3 419.5,693.1 427.5,700.2 435.5,696.4 443.5,699.4 451.5,694.3 459.5,701.2 467.5,701.4 475.5,705.9 483.5,717.4 491.5,717.4 499.5,717.4 507.5,714 515.5,710.3 523.5,709.3 531.5,709.3 539.5,709.3 547.5,702.4 555.5,705.3 563.5,706.5 571.5,704.3 579.5,712 587.5,716.4 595.5,713 603.5,709.3 611.5,703.2 619.5,699.4 627.5,700.2 635.5,702.2 643.5,704.3 651.5,710.3 659.5,707.3 667.5,715.4 675.5,702.4 683.5,703.5 691.5,705.3 699.5,706.9 707.5,713 715.5,716.4 723.5,712 731.5,705.9 739.5,704.5 747.5,704.5 755.5,710.3 763.5,711.4 771.5,708.5 779.5,720.5 787.5,721.7 795.5,724.7 803.5,727.8 811.5,733.2 819.5,734.7 827.5,733.7 835.5,730.2 843.5,727.2 851.5,730.8 859.5,715.4 867.5,718.5 875.5,719.6 883.5,715.6 891.5,712 899.5,708.3 907.5,702.4 915.5,694.3 923.5,691.1 931.5,693.3 939.5,689.3 947.5,684.6 955.5,683.2 963.5,690.3 971.5,684.6 979.5,683.2 987.5,684.6 995.5,680.1 1003.5,676.5 1011.5,676.5 1019.5,680.1 1027.5,681.6 1035.5,681.6 1043.5,688.2 1051.5,671.4 1059.5,663.3 1067.5,665.3 1075.5,664.3 1083.5,663.3 1091.5,663.3 1099.5,672 1107.5,670.4 1115.5,671.4 1123.5,675.5 1131.5,678.5" fill="none" stroke="#622a9c" stroke-width="1" shape-rendering="crispEdges"/>
<path d="M6 9h7l-3.5 4z" fill="#000"/>
<text x="18.5" y="14" xml:space="preserve">EURUSD,H4  1.14414 1.14427 1.14304 1.14305</text>
<text x="7.5" y="650.5">RSI(14) 66.2329</text>
<text class="n" x="1440.5" y="9.3">1.15005</text>
<text class="n" x="1440.5" y="42.3">1.14800</text>
<text class="n" x="1440.5" y="75.3">1.14595</text>
<text class="n" x="1440.5" y="108.3">1.14395</text>
<text class="n" x="1440.5" y="141.3">1.14190</text>
<text class="n" x="1440.5" y="174.3">1.13985</text>
<text class="n" x="1440.5" y="207.3">1.13780</text>
<text class="n" x="1440.5" y="240.3">1.13580</text>
<text class="n" x="1440.5" y="273.3">1.13375</text>
<text class="n" x="1440.5" y="306.3">1.13170</text>
<text class="n" x="1440.5" y="339.3">1.12970</text>
<text class="n" x="1440.5" y="372.3">1.12765</text>
<text class="n" x="1440.5" y="405.3">1.12560</text>
<text class="n" x="1440.5" y="438.3">1.12355</text>
<text class="n" x="1440.5" y="471.3">1.12155</text>
<text class="n" x="1440.5" y="504.3">1.11950</text>
<text class="n" x="1440.5" y="537.3">1.11745</text>
<text class="n" x="1440.5" y="570.3">1.11540</text>
<text class="n" x="1440.5" y="603.3">1.11340</text>
<text class="n" x="1440.5" y="636.3">1.11135</text>
<text x="1437.7" y="648.6">100</text>
<text x="1437.7" y="665.7">80</text>
<text x="1437.7" y="700.7">50</text>
<text x="1437.7" y="734.7">20</text>
<text x="1437.7" y="751.8">0</text>
<text class="d" x="2" y="767.6">4 Jan 2022</text>
<text class="d" x="66" y="767.6">6 Jan 00:00</text>
<text class="d" x="130" y="767.6">7 Jan 08:00</text>
<text class="d" x="194" y="767.6">10 Jan 16:00</text>
<text class="d" x="258" y="767.6">12 Jan 00:00</text>
<text class="d" x="322" y="767.6">13 Jan 08:00</text>
<text class="d" x="386" y="767.6">14 Jan 16:00</text>
<text class="d" x="450" y="767.6">18 Jan 00:00</text>
<text class="d" x="514" y="767.6">19 Jan 08:00</text>
<text class="d" x="578" y="767.6">20 Jan 16:00</text>
<text class="d" x="642" y="767.6">24 Jan 00:00</text>
<text class="d" x="706" y="767.6">25 Jan 08:00</text>
<text class="d" x="770" y="767.6">26 Jan 16:00</text>
<text class="d" x="834" y="767.6">28 Jan 00:00</text>
<text class="d" x="898" y="767.6">31 Jan 08:00</text>
<text class="d" x="962" y="767.6">1 Feb 16:00</text>
<text class="d" x="1026" y="767.6">3 Feb 00:00</text>
<text class="d" x="1090" y="767.6">4 Feb 08:00</text>
<text class="fib n" x="1433.2" y="30.5" text-anchor="end">0.0 1.14838</text>
<text class="fib n" x="1433.2" y="169.5" text-anchor="end">23.6 1.13983</text>
<text class="fib n" x="1433.2" y="254.5" text-anchor="end">38.2 1.13454</text>
<text class="fib n" x="1433.2" y="324.5" text-anchor="end">50.0 1.13026</text>
<text class="fib n" x="1433.2" y="393.5" text-anchor="end">61.8 1.12598</text>
<text class="fib n" x="1433.2" y="479.5" text-anchor="end">0.764 1.12069</text>
<text class="fib n" x="1433.2" y="617.5" text-anchor="end">100.0 1.11214</text>
<g shape-rendering="crispEdges">
<rect x="1436" y="114" width="41" height="11" fill="#000"/>
<rect x="1436" y="222" width="41" height="11" fill="#ff0000"/>
<rect x="1436" y="357" width="41" height="11" fill="#ff0000"/>
<rect x="1436" y="612" width="41" height="11" fill="#ff0000"/>
</g>
<text class="w n" x="1440.7" y="122.4">1.14305</text>
<text class="w n" x="1440.7" y="230.4">1.13634</text>
<text class="w n" x="1440.7" y="365.4">1.12802</text>
<text class="w n" x="1440.7" y="620.4">1.11231</text>
</svg>
</body></html>
